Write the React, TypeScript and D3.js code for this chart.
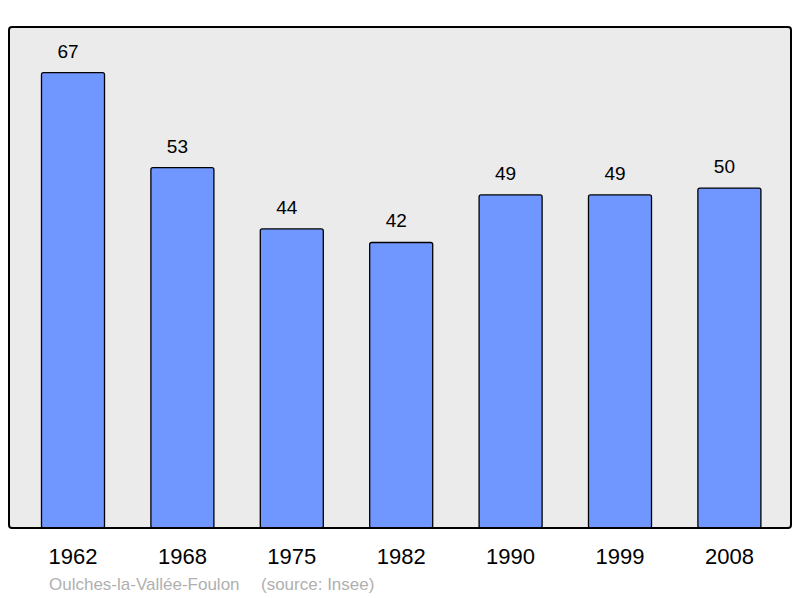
import React from "react";
import * as d3 from "d3";

const years = ["1962", "1968", "1975", "1982", "1990", "1999", "2008"];
const populations = [67, 53, 44, 42, 49, 49, 50];
const commune = "Oulches-la-Vallée-Foulon";
const sourceLabel = "(source: Insee)";

export default function App() {
  const W = 800, H = 598;
  const frame = { x: 9, y: 27, w: 782, h: 501 };
  const yBase = frame.y + frame.h;
  const x = d3.scaleBand<string>().domain(years).range([18.3, 784.1]).paddingInner(0.424).paddingOuter(0.212);
  const y = d3.scaleLinear().domain([0, 67 * 1.1]).range([yBase, frame.y]);
  const font = "'Liberation Sans', Arial, sans-serif";
  return (
    <svg width={W} height={H} style={{ position: "absolute", left: 0, top: 0 }} fontFamily={font}>
      <rect x={frame.x} y={frame.y} width={frame.w} height={frame.h} rx={3} fill="#ebebeb" stroke="none" />
      {years.map((yr, i) => (
        <g key={yr}>
          <rect x={x(yr)} y={y(populations[i])} width={x.bandwidth()} height={yBase - y(populations[i])}
            fill="#7097ff" stroke="#000" strokeWidth={1.3} rx={2} />
          <text x={x(yr)! + x.bandwidth() / 2 - 5} y={y(populations[i]) - 15} textAnchor="middle" fontSize={19} fill="#000">{populations[i]}</text>
          <text x={x(yr)! + x.bandwidth() / 2} y={564} textAnchor="middle" fontSize={22} fill="#000">{yr}</text>
        </g>
      ))}
      <rect x={frame.x} y={frame.y} width={frame.w} height={frame.h} rx={3} fill="none" stroke="#000" strokeWidth={2} />
      <text x={49} y={590} fontSize={17} fill="#b0b0b0">{commune}</text>
      <text x={261} y={590} fontSize={17} fill="#b0b0b0">{sourceLabel}</text>
    </svg>
  );
}
